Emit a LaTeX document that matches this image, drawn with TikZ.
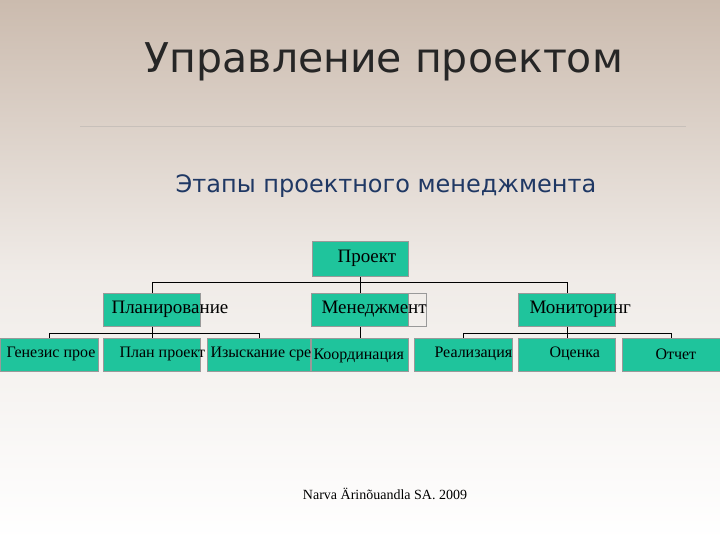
\documentclass[tikz,border=0pt]{standalone}
\usepackage{fontspec}
\setmainfont{Liberation Serif}
\newfontfamily\titlefont{DejaVu Sans}
\begin{document}
\begin{tikzpicture}[x=1pt,y=-1pt,
  box/.style={fill=boxc,draw=gray!80,line width=0.6pt,minimum height=33pt,inner sep=0pt},
  conn/.style={draw=black,line width=0.7pt}]
\definecolor{boxc}{HTML}{1FC49C}
\definecolor{topc}{HTML}{CBBBAE}
\definecolor{navy}{HTML}{1F3864}
\shade[top color=topc,bottom color=white,middle color=topc!30] (0,0) rectangle (720,540);
\useasboundingbox (0,0) rectangle (720,540);
\node[font=\titlefont\fontsize{41}{41}\selectfont,text=black!85] (title) at (384,62) {Управление проектом};
\draw[topc!80!black!60,line width=0.6pt] (80,126) -- (686,126);
\node[font=\titlefont\fontsize{24}{24}\selectfont,text=navy] (sub) at (386,186) {Этапы проектного менеджмента};
% boxes
\node[box,minimum width=96pt,minimum height=35pt] (p) at (360,259) {};
\node[anchor=west,font=\fontsize{19}{19}\selectfont] at (334,258) {Проект};
\node[box,minimum width=97pt] (pl) at (152,310) {};
\node[anchor=west,font=\fontsize{19}{19}\selectfont] at (108,309) {Планирование};
\draw[gray!80,line width=0.6pt] (408,293.5) rectangle (426,326.5);
\node[box,minimum width=97pt] (m) at (360,310) {};
\node[anchor=west,font=\fontsize{19}{19}\selectfont] at (318,309) {Менеджмент};
\node[box,minimum width=97pt] (mo) at (567,310) {};
\node[anchor=west,font=\fontsize{19}{19}\selectfont] at (526,309) {Мониторинг};
\node[box,minimum width=98pt] (a) at (49,355) {};
\node[box,minimum width=97pt] (b) at (152,355) {};
\node[box,minimum width=103pt] (c) at (259,355) {};
\node[box,minimum width=97pt] (d) at (360,355) {};
\node[box,minimum width=98pt] (e) at (463,355) {};
\node[box,minimum width=97pt] (f) at (567,355) {};
\node[box,minimum width=98pt] (g) at (671,355) {};
\begin{scope}[font=\fontsize{16}{16}\selectfont,anchor=west]
\node at (3,354) {Генезис прое};
\node at (116,354) {План проект};
\node at (207,354) {Изыскание сре};
\node at (310,356) {Координация};
\node at (431,354) {Реализация};
\node at (546,354) {Оценка};
\node at (652,354) {Отчет};
\end{scope}
% connectors
\draw[conn] (p.south) -- ++(0,6) -| (pl.north);
\draw[conn] (p.south) -- (m.north);
\draw[conn] (p.south) -- ++(0,6) -| (mo.north);
\draw[conn] (pl.south) -- ++(0,7) -| (a.north);
\draw[conn] (pl.south) -- (b.north);
\draw[conn] (pl.south) -- ++(0,7) -| (c.north);
\draw[conn] (m.south) -- (d.north);
\draw[conn] (mo.south) -- ++(0,7) -| (e.north);
\draw[conn] (mo.south) -- (f.north);
\draw[conn] (mo.south) -- ++(0,7) -| (g.north);
\node[font=\fontsize{14}{14}\selectfont] (foot) at (385,494) {Narva Ärinõuandla SA. 2009};
\end{tikzpicture}
\end{document}
